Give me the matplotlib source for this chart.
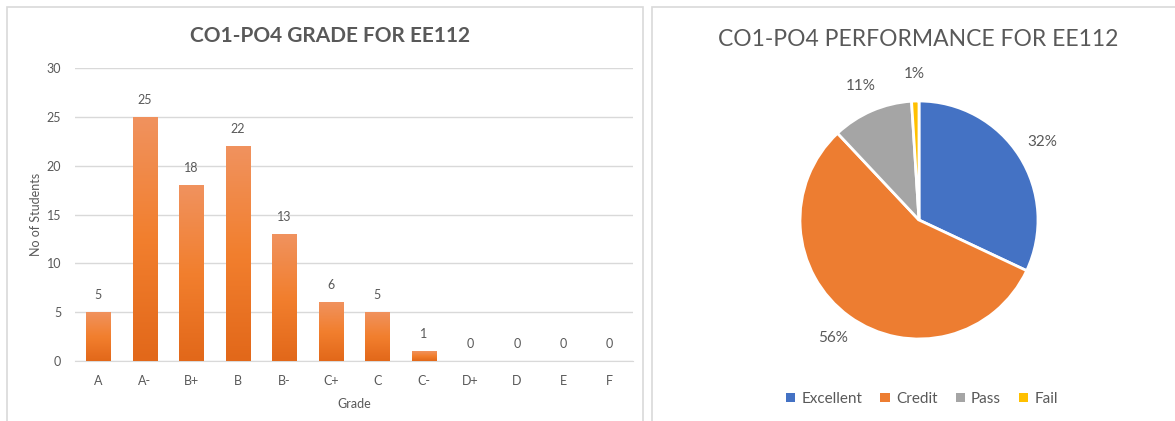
import numpy as np
import matplotlib.pyplot as plt
from matplotlib.patches import Rectangle, Patch
from matplotlib.colors import LinearSegmentedColormap

plt.rcParams['font.family'] = ['Lato', 'DejaVu Sans']

# ---------------- DATA ----------------
grades = ['A', 'A-', 'B+', 'B', 'B-', 'C+', 'C', 'C-', 'D+', 'D', 'E', 'F']
students = [5, 25, 18, 22, 13, 6, 5, 1, 0, 0, 0, 0]

perf_labels = ['Excellent', 'Credit', 'Pass', 'Fail']
perf_share = [32, 56, 11, 1]
perf_colors = ['#4472C4', '#ED7D31', '#A5A5A5', '#FFC000']

TXT = '#595959'
GRID = '#D9D9D9'
W, H = 1175, 421

fig = plt.figure(figsize=(W / 100, H / 100), dpi=100)
fig.patch.set_facecolor('white')

# panel borders
for x0, x1 in [(7, 643), (652, 1180)]:
    fig.add_artist(Rectangle((x0 / W, -0.05), (x1 - x0) / W, (H - 7) / H + 0.05,
                             transform=fig.transFigure, fill=False,
                             edgecolor=GRID, linewidth=1.2))

# ---------------- BAR CHART ----------------
ax = fig.add_axes([75 / W, 60 / H, 558 / W, 293 / H])
x = np.arange(len(grades))
bars = ax.bar(x, students, width=0.52, color='#ED7D31', zorder=2)

# vertical gradient on every bar
grad = LinearSegmentedColormap.from_list('og', ['#E2681A', '#F27F2E', '#F0925E'])
g = np.linspace(0, 1, 100).reshape(-1, 1)
for b in bars:
    if b.get_height() <= 0:
        continue
    im = ax.imshow(g, cmap=grad, origin='lower', aspect='auto', zorder=3,
                   extent=[b.get_x(), b.get_x() + b.get_width(), 0, b.get_height()])
    im.set_clip_path(b)

for xi, v in zip(x, students):
    ax.annotate(str(v), (xi, v), xytext=(0, 8), textcoords='offset points',
                ha='center', va='bottom', fontsize=9, color=TXT)

ax.set_xlim(-0.5, len(grades) - 0.5)
ax.set_ylim(0, 30)
ax.set_yticks(range(0, 31, 5))
ax.set_xticks(x)
ax.set_xticklabels(grades)
ax.yaxis.grid(True, color=GRID, linewidth=1, zorder=0)
ax.set_axisbelow(True)
for s in ['top', 'right', 'left']:
    ax.spines[s].set_visible(False)
ax.spines['bottom'].set_color(GRID)
ax.tick_params(length=0, colors=TXT, labelsize=9, pad=10)
ax.set_xlabel('Grade', color=TXT, fontsize=9, labelpad=8)
ax.set_ylabel('No of Students', color=TXT, fontsize=9, labelpad=3)
fig.text(330 / W, 1 - 36 / H, 'CO1-PO4 GRADE FOR EE112', ha='center', va='center',
         fontsize=15, fontweight='bold', color=TXT)

# ---------------- PIE CHART ----------------
R = 119
pax = fig.add_axes([(919 - 150) / W, (H - 220 - 150) / H, 300 / W, 300 / H])
wedges, texts, autotexts = pax.pie(perf_share, colors=perf_colors, startangle=90,
                                   counterclock=False, autopct='%d%%', pctdistance=1.23,
                                   wedgeprops=dict(edgecolor='white', linewidth=2))
for t in autotexts:
    t.set_color(TXT)
    t.set_fontsize(11)
pax.set_xlim(-150 / R, 150 / R)
pax.set_ylim(-150 / R, 150 / R)

fig.text(918 / W, 1 - 40 / H, 'CO1-PO4 PERFORMANCE FOR EE112', ha='center', va='center',
         fontsize=16.5, color=TXT)

handles = [Patch(facecolor=c, edgecolor='none') for c in perf_colors]
fig.legend(handles, perf_labels, loc='center', bbox_to_anchor=(922 / W, 1 - 399 / H),
           ncol=4, frameon=False, fontsize=11, labelcolor=TXT,
           handlelength=0.6, handleheight=0.6, handletextpad=0.4, columnspacing=1.2)

fig.savefig('out.png', dpi=100, facecolor='white')
